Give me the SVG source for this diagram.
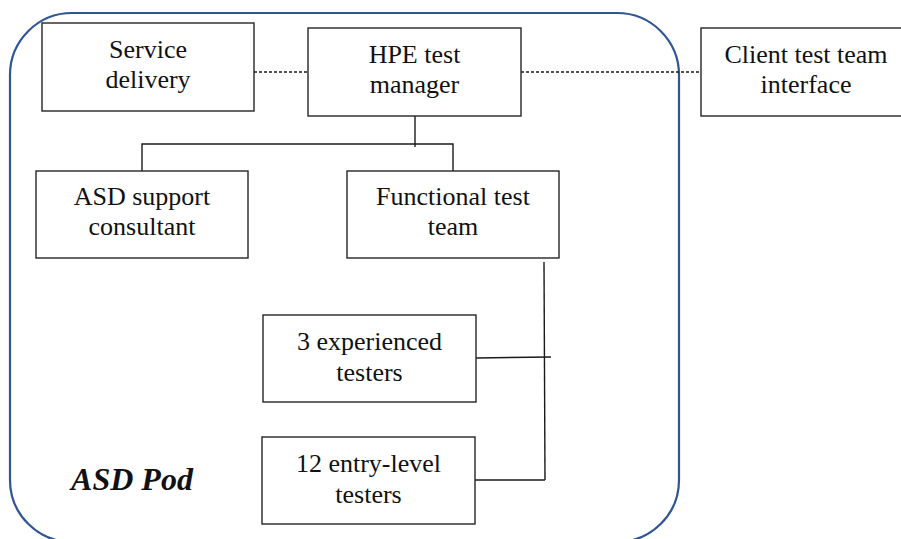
<svg xmlns="http://www.w3.org/2000/svg" width="901" height="539" viewBox="0 0 901 539">
<style>
.box{fill:#fff;stroke:#262626;stroke-width:1.4}
.t{font-family:"Liberation Serif","Times New Roman",serif;font-size:26px;fill:#111;text-anchor:middle}
.c{fill:none;stroke:#1a1a1a;stroke-width:1.4}
.d{fill:none;stroke:#1a1a1a;stroke-width:1.3;stroke-dasharray:3 2}
</style>
<rect width="901" height="539" fill="#fff"/>
<g id="pod">
<rect x="10" y="13" width="669" height="529" rx="62" ry="62" fill="none" stroke="#2F5597" stroke-width="2.2"/>
<text x="132" y="490" style="font-family:'Liberation Serif','Times New Roman',serif;font-size:32px;font-weight:bold;font-style:italic;fill:#111" text-anchor="middle">ASD Pod</text>
</g>
<g id="connectors">
<line class="d" x1="254" y1="72" x2="308" y2="72"/>
<line class="d" x1="521" y1="72" x2="701" y2="72"/>
<line class="c" x1="415" y1="116" x2="415" y2="147"/>
<polyline class="c" points="142,171 142,144 453,144 453,171"/>
<line class="c" x1="544" y1="262" x2="545" y2="480"/>
<line class="c" x1="476" y1="358" x2="551" y2="357"/>
<line class="c" x1="475" y1="480" x2="545" y2="480"/>
</g>
<g id="service-delivery">
<rect class="box" x="42" y="23" width="212" height="88"/>
<text class="t" x="148" y="58">Service</text>
<text class="t" x="148" y="88">delivery</text>
</g>
<g id="hpe-test-manager">
<rect class="box" x="308" y="28" width="213" height="88"/>
<text class="t" x="414.5" y="63">HPE test</text>
<text class="t" x="414.5" y="93">manager</text>
</g>
<g id="client-test-team-interface">
<rect class="box" x="701" y="28" width="210" height="88"/>
<text class="t" x="806" y="63">Client test team</text>
<text class="t" x="806" y="93">interface</text>
</g>
<g id="asd-support-consultant">
<rect class="box" x="36" y="171" width="212" height="87"/>
<text class="t" x="142" y="205">ASD support</text>
<text class="t" x="142" y="235">consultant</text>
</g>
<g id="functional-test-team">
<rect class="box" x="347" y="171" width="212" height="87"/>
<text class="t" x="453" y="205">Functional test</text>
<text class="t" x="453" y="235">team</text>
</g>
<g id="experienced-testers">
<rect class="box" x="263" y="315" width="213" height="87"/>
<text class="t" x="369.5" y="350">3 experienced</text>
<text class="t" x="369.5" y="381">testers</text>
</g>
<g id="entry-level-testers">
<rect class="box" x="262" y="437" width="213" height="87"/>
<text class="t" x="368.5" y="472">12 entry-level</text>
<text class="t" x="368.5" y="503">testers</text>
</g>
</svg>
